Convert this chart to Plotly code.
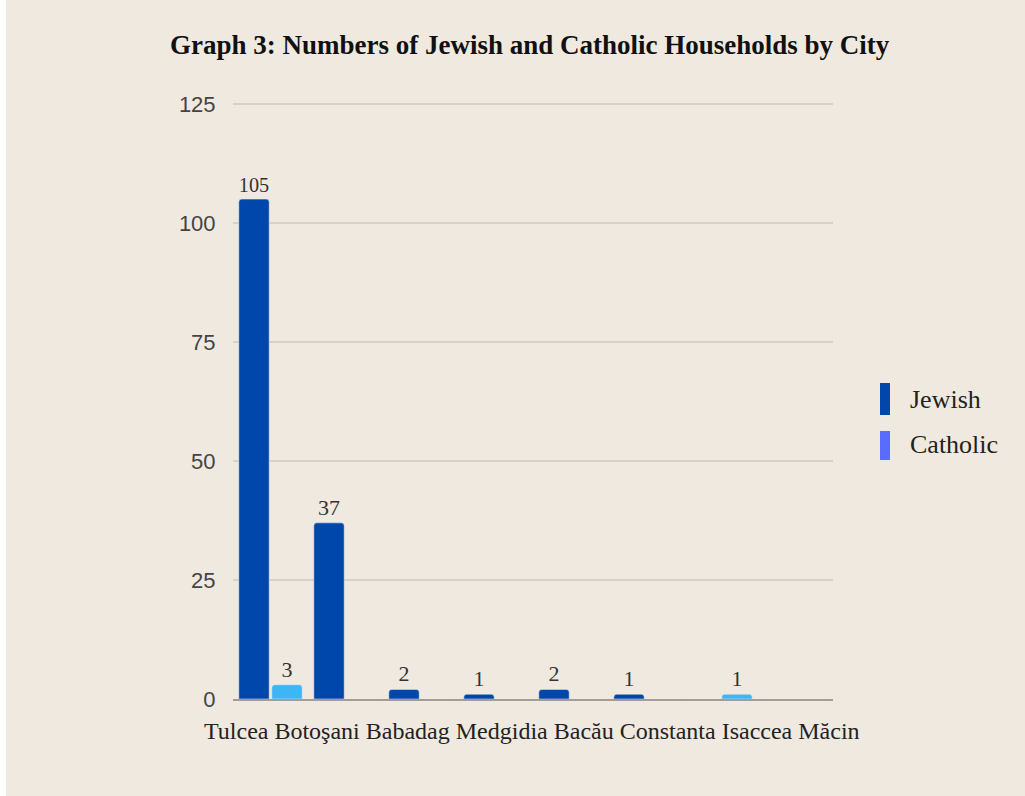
import plotly.graph_objects as go

# Households per city
cities = ["Tulcea", "Botoşani", "Babadag", "Medgidia", "Bacău", "Constanta", "Isaccea", "Măcin"]
jewish = [105, 37, 2, 1, 2, 1, 0, 0]
catholic = [3, 0, 0, 0, 0, 0, 1, 0]
y_ticks = [0, 25, 50, 75, 100, 125]

SERIF = "Liberation Serif"
SANS = "Liberation Sans"
BG = "#f0e9e0"
JEWISH_COLOR = "#0047ab"
CATHOLIC_BAR = "#3cb6f5"
CATHOLIC_KEY = "#5a6cff"

W, H = 1025, 796
ML, MR, MT, MB = 233, 192, 102, 97
PW, PH = W - ML - MR, H - MT - MB
Y_MAX = 125.4


def px(x):
    return (x - ML) / PW


def py(y):
    return (H - MB - y) / PH


def labels(vals):
    return [str(v) if v else "" for v in vals]


fig = go.Figure()
fig.add_trace(go.Bar(
    x=cities, y=jewish, name="Jewish", marker_color=JEWISH_COLOR,
    marker_cornerradius=3, text=labels(jewish), textposition="outside",
    textfont=dict(family=SERIF, size=22, color="#333333"), cliponaxis=False,
    showlegend=False,
))
fig.add_trace(go.Bar(
    x=cities, y=catholic, name="Catholic", marker_color=CATHOLIC_BAR,
    marker_cornerradius=3, text=labels(catholic), textposition="outside",
    textfont=dict(family=SERIF, size=22, color="#333333"), cliponaxis=False,
    showlegend=False,
))

shapes = [
    # white strip on the left edge of the page
    dict(type="rect", xref="paper", yref="paper", x0=px(0), x1=px(6), y0=py(H), y1=py(0),
         fillcolor="white", line_width=0, layer="below"),
]
annotations = [
    dict(text="<b>Graph 3: Numbers of Jewish and Catholic Households by City</b>",
         xref="paper", yref="paper", x=px(530), y=py(45), showarrow=False,
         font=dict(family=SERIF, size=27, color="#111111"), xanchor="center", yanchor="middle"),
    dict(text=" ".join(cities), xref="paper", yref="paper", x=px(532), y=py(731),
         showarrow=False, font=dict(family=SERIF, size=24, color="#222222"),
         xanchor="center", yanchor="middle"),
]

# Legend keys drawn as tall swatches
legend_items = [("Jewish", JEWISH_COLOR, 383, 415, 399), ("Catholic", CATHOLIC_KEY, 431, 460, 444)]
for name, color, top, bottom, mid in legend_items:
    shapes.append(dict(type="rect", xref="paper", yref="paper",
                       x0=px(880), x1=px(890), y0=py(bottom), y1=py(top),
                       fillcolor=color, line_width=0))
    annotations.append(dict(text=name, xref="paper", yref="paper", x=px(908), y=py(mid),
                            showarrow=False, xanchor="left", yanchor="middle",
                            font=dict(family=SERIF, size=26, color="#222222")))

fig.update_layout(
    width=W, height=H,
    margin=dict(l=ML, r=MR, t=MT, b=MB, pad=0),
    paper_bgcolor=BG, plot_bgcolor=BG,
    barmode="group", bargap=0.12, bargroupgap=0.08,
    shapes=shapes, annotations=annotations,
    showlegend=False,
)
fig.update_xaxes(showticklabels=False, showgrid=False, showline=True,
                 linecolor="#a39d96", linewidth=2, ticks="", zeroline=False)
fig.update_yaxes(range=[0, Y_MAX], tickvals=y_ticks, showgrid=True, gridcolor="#d8d1c9",
                 gridwidth=1.5, zeroline=False, showline=False,
                 ticks="outside", ticklen=12, tickcolor="rgba(0,0,0,0)",
                 tickfont=dict(family=SANS, size=22, color="#444444"))

fig.write_html("out.html")
